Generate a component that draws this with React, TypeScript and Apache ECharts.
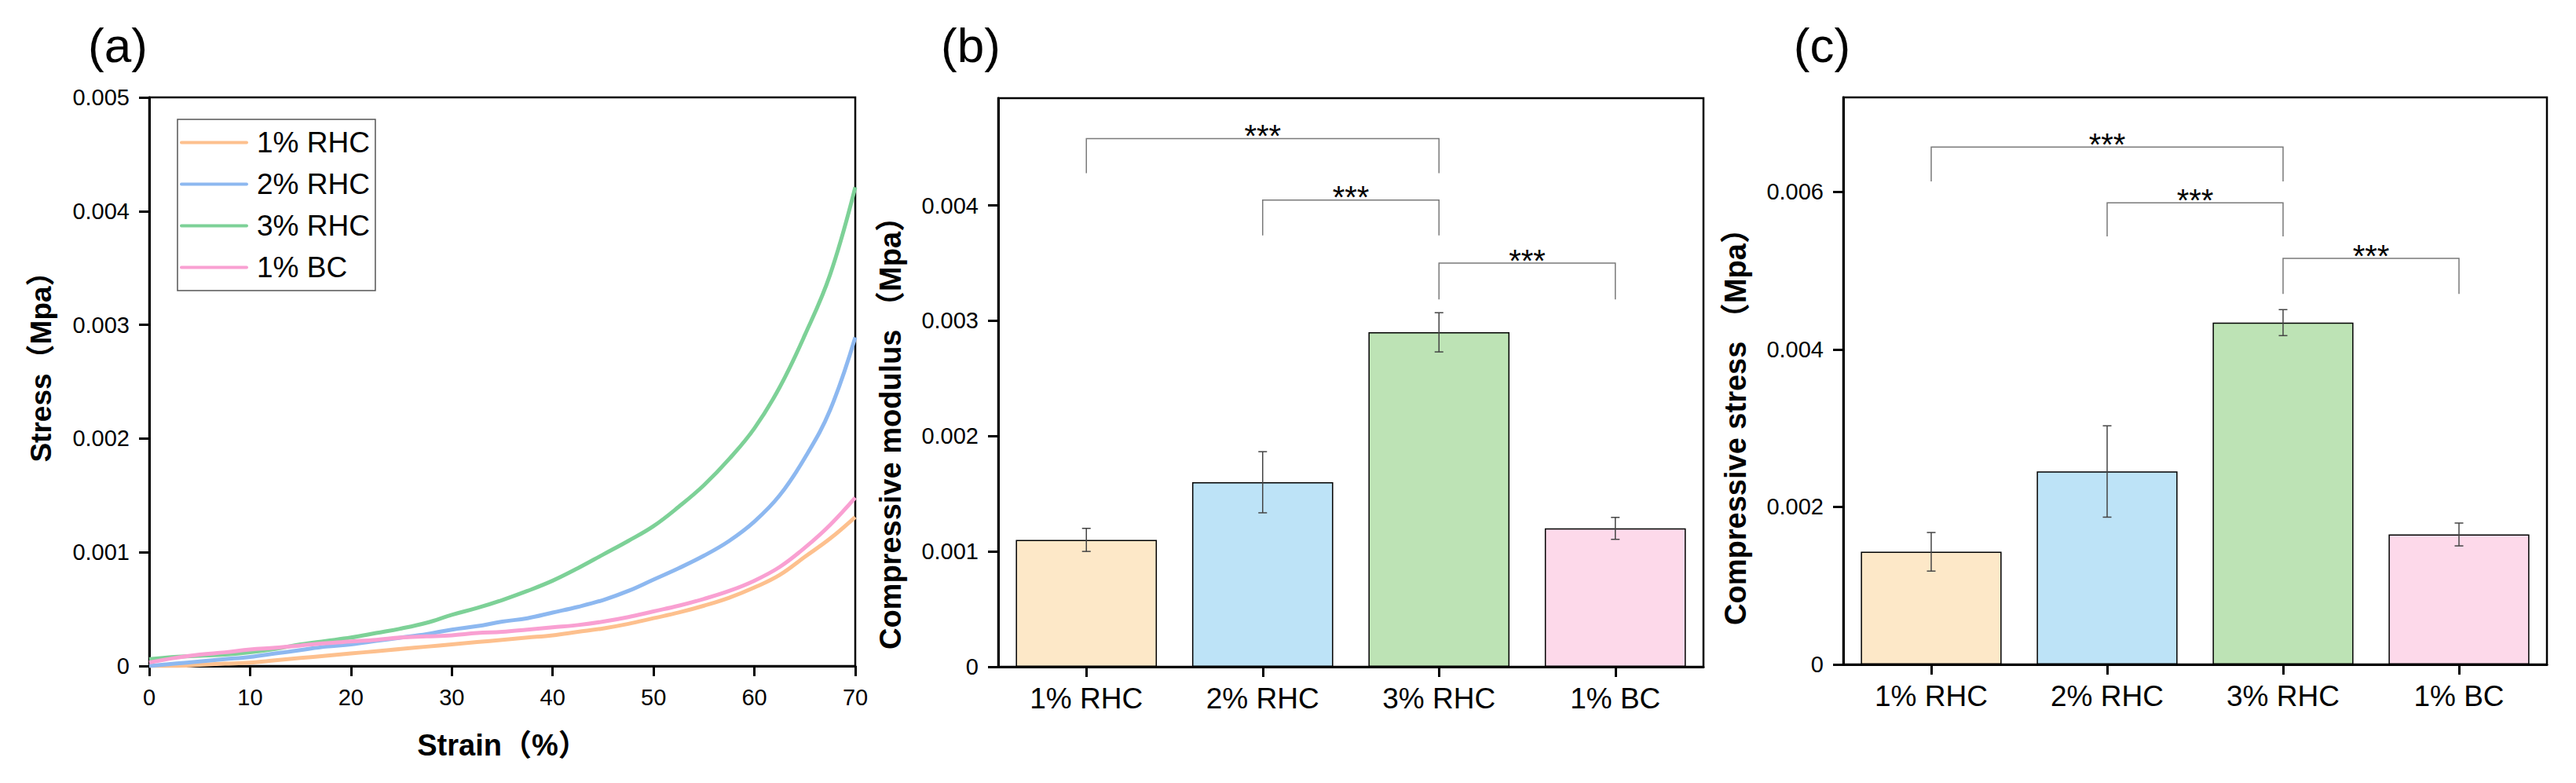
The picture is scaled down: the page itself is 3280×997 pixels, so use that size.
import React, { useEffect, useRef } from 'react';
import * as echarts from 'echarts';

// ---------- Panel (a): stress-strain curves ----------
const strain = [0, 2.5, 5, 7.5, 10, 12.5, 15, 17.5, 20, 22.5, 25, 27.5, 30, 32.5, 35, 37.5, 40, 42.5, 45, 47.5, 50, 52.5, 55, 57.5, 60, 62.5, 65, 67.5, 70];
const curve1RHC = [0, 0, 0.00001, 0.00002, 0.00003, 0.00005, 0.00007, 0.00009, 0.00011, 0.00013, 0.00015, 0.00017, 0.00019, 0.00021, 0.00023, 0.00025, 0.00027, 0.0003, 0.00033, 0.00037, 0.00042, 0.00047, 0.00053, 0.0006, 0.00069, 0.0008, 0.00096, 0.00112, 0.00131];
const curve2RHC = [0, 0.00002, 0.00004, 0.00006, 0.00008, 0.00011, 0.00014, 0.00017, 0.00019, 0.00022, 0.00025, 0.00028, 0.00032, 0.00035, 0.00039, 0.00042, 0.00047, 0.00052, 0.00058, 0.00066, 0.00076, 0.00086, 0.00097, 0.0011, 0.00127, 0.0015, 0.00183, 0.00225, 0.00289];
const curve3RHC = [0.00006, 0.00008, 0.00009, 0.0001, 0.00012, 0.00015, 0.00019, 0.00022, 0.00025, 0.00029, 0.00033, 0.00038, 0.00045, 0.00051, 0.00058, 0.00066, 0.00075, 0.00086, 0.00098, 0.0011, 0.00123, 0.0014, 0.00159, 0.00182, 0.00209, 0.00245, 0.00291, 0.00344, 0.00421];
const curve1BC = [0.00003, 0.00007, 0.0001, 0.00012, 0.000145, 0.00016, 0.00018, 0.0002, 0.000215, 0.00023, 0.00025, 0.00026, 0.00027, 0.00029, 0.0003, 0.00032, 0.00034, 0.00036, 0.00039, 0.00043, 0.00048, 0.00053, 0.00059, 0.00066, 0.00075, 0.00087, 0.00104, 0.00124, 0.00148];
const curveNames = ['1% RHC', '2% RHC', '3% RHC', '1% BC'];
const curveColors = ['#FDC08E', '#8DB8F0', '#7DD197', '#F9A0D2'];
const xTicksA = [0, 10, 20, 30, 40, 50, 60, 70];
const yTicksA = [0, 0.001, 0.002, 0.003, 0.004, 0.005];

// ---------- Panels (b) and (c): bars ----------
const barCategories = ['1% RHC', '2% RHC', '3% RHC', '1% BC'];
const barColors = ['#FDE8C8', '#BDE3F7', '#BDE3B5', '#FDD9EA'];
const modulusMean = [0.0011, 0.0016, 0.0029, 0.0012];
const modulusErr = [0.0001, 0.000265, 0.00017, 0.000095];
const stressMean = [0.00143, 0.00245, 0.00434, 0.00165];
const stressErr = [0.000245, 0.00058, 0.000165, 0.000145];
const yTicksB = [0, 0.001, 0.002, 0.003, 0.004];
const yTicksC = [0, 0.002, 0.004, 0.006];
// [left category, right category, bracket top, leg end]
const modulusBrackets = [
  [0, 2, 0.00458, 0.00428],
  [1, 2, 0.004046, 0.00374],
  [2, 3, 0.0035, 0.003185],
];
const stressBrackets = [
  [0, 2, 0.00657, 0.006133],
  [1, 2, 0.00586, 0.005435],
  [2, 3, 0.005155, 0.004704],
];

const FONT = '"Liberation Sans", Arial, "Noto Sans CJK SC", sans-serif';

const fmt = (v: number) => (v === 0 ? '0' : v.toFixed(3));

const axisLineStyle = { show: true, lineStyle: { color: '#000', width: 3 } };
const axisTickStyle = { show: true, inside: false, length: 13, lineStyle: { color: '#000', width: 3 } };

// legend icon: a 4px bar across an 87x30 box (leading moves fix the bounding box)
const LEGEND_LINE = 'path://M0,0M87,30M2,13L85,13A2,2,0,0,1,85,17L2,17A2,2,0,0,1,2,13Z';

function errorRender(params: any, api: any) {
  const x = api.value(0);
  const lo = api.coord([x, api.value(1)]);
  const hi = api.coord([x, api.value(2)]);
  const hw = 5.5;
  const st = { stroke: '#444', lineWidth: 1.5 };
  return {
    type: 'group',
    children: [
      { type: 'line', shape: { x1: hi[0], y1: hi[1], x2: lo[0], y2: lo[1] }, style: st },
      { type: 'line', shape: { x1: hi[0] - hw, y1: hi[1], x2: hi[0] + hw, y2: hi[1] }, style: st },
      { type: 'line', shape: { x1: lo[0] - hw, y1: lo[1], x2: lo[0] + hw, y2: lo[1] }, style: st },
    ],
  };
}

function bracketRender(params: any, api: any) {
  const l = api.value(0);
  const r = api.value(1);
  const top = api.value(2);
  const leg = api.value(3);
  const pL = api.coord([l, leg]);
  const pLT = api.coord([l, top]);
  const pRT = api.coord([r, top]);
  const pR = api.coord([r, leg]);
  return {
    type: 'group',
    children: [
      {
        type: 'polyline',
        shape: { points: [pL, pLT, pRT, pR] },
        style: { stroke: '#7a7a7a', lineWidth: 1.5, fill: 'none' },
      },
      {
        type: 'text',
        x: (pLT[0] + pRT[0]) / 2,
        y: pLT[1] - 3.5,
        style: {
          text: '***',
          fontSize: 40,
          fontFamily: FONT,
          fill: '#000',
          align: 'center',
          textAlign: 'center',
          verticalAlign: 'middle',
          textVerticalAlign: 'middle',
        },
      },
    ],
  };
}

function barAxes(gridIndex: number, max: number, ticks: number[], interval: number) {
  return {
    x: {
      type: 'category',
      gridIndex,
      data: barCategories,
      axisLine: axisLineStyle,
      axisTick: { ...axisTickStyle, alignWithLabel: true },
      axisLabel: { color: '#000', fontSize: 37, fontFamily: FONT, margin: 22 },
      splitLine: { show: false },
    },
    y: {
      type: 'value',
      gridIndex,
      min: 0,
      max,
      interval,
      axisLine: axisLineStyle,
      axisTick: { ...axisTickStyle, customValues: ticks },
      axisLabel: { color: '#000', fontSize: 29, fontFamily: FONT, margin: 25, customValues: ticks, formatter: fmt },
      splitLine: { show: false },
    },
  };
}

function barSeries(idx: number, means: number[], errs: number[], brackets: number[][]) {
  return [
    {
      type: 'bar',
      xAxisIndex: idx,
      yAxisIndex: idx,
      barCategoryGap: '20%',
      data: means.map((m, i) => ({ value: m, itemStyle: { color: barColors[i], borderColor: '#000', borderWidth: 1.5 } })),
      z: 2,
      silent: true,
    },
    {
      type: 'custom',
      xAxisIndex: idx,
      yAxisIndex: idx,
      renderItem: errorRender,
      encode: { x: 0, y: [1, 2] },
      data: means.map((m, i) => [i, m - errs[i], m + errs[i]]),
      z: 5,
      silent: true,
    },
    {
      type: 'custom',
      xAxisIndex: idx,
      yAxisIndex: idx,
      renderItem: bracketRender,
      encode: { x: [0, 1], y: [2, 3] },
      data: brackets,
      z: 6,
      silent: true,
    },
  ];
}

function titleText(text: string, x: number, y: number, size: number, bold: boolean, rotate = false) {
  return {
    type: 'text',
    x,
    y,
    rotation: rotate ? Math.PI / 2 : 0,
    style: {
      text,
      fontSize: size,
      fontWeight: bold ? 'bold' : 'normal',
      fontFamily: FONT,
      fill: '#000',
      align: 'center',
      textAlign: 'center',
      verticalAlign: 'middle',
      textVerticalAlign: 'middle',
    },
  };
}

export default function App() {
  const ref = useRef<HTMLDivElement>(null);
  useEffect(() => {
    document.body.style.margin = '0';
    if (!ref.current) return;
    const chart = echarts.init(ref.current, undefined, { renderer: 'svg' });
    const curves = [curve1RHC, curve2RHC, curve3RHC, curve1BC];
    const b = barAxes(1, 0.00493, yTicksB, 0.001);
    const c = barAxes(2, 0.0072, yTicksC, 0.002);
    chart.setOption({
      animation: false,
      backgroundColor: '#fff',
      grid: [
        { left: 190, top: 124, width: 899, height: 724, show: true, borderColor: '#000', borderWidth: 2.5, backgroundColor: 'transparent' },
        { left: 1271, top: 125, width: 898, height: 724, show: true, borderColor: '#000', borderWidth: 2.5, backgroundColor: 'transparent' },
        { left: 2347, top: 124, width: 896, height: 722, show: true, borderColor: '#000', borderWidth: 2.5, backgroundColor: 'transparent' },
      ],
      legend: {
        data: curveNames.map((n) => ({ name: n, icon: LEGEND_LINE })),
        orient: 'vertical',
        left: 226,
        top: 152,
        padding: [11, 7, 11, 3],
        itemWidth: 87,
        itemHeight: 30,
        itemGap: 16,
        borderColor: '#555',
        borderWidth: 1.5,
        textStyle: { fontSize: 37, fontFamily: FONT, color: '#000', padding: [0, 0, 0, 6] },
      },
      xAxis: [
        {
          type: 'value',
          gridIndex: 0,
          min: 0,
          max: 70,
          interval: 10,
          axisLine: axisLineStyle,
          axisTick: { ...axisTickStyle, customValues: xTicksA },
          axisLabel: { color: '#000', fontSize: 29, fontFamily: FONT, margin: 25, customValues: xTicksA },
          splitLine: { show: false },
        },
        b.x,
        c.x,
      ],
      yAxis: [
        {
          type: 'value',
          gridIndex: 0,
          min: 0,
          max: 0.005,
          interval: 0.001,
          axisLine: axisLineStyle,
          axisTick: { ...axisTickStyle, customValues: yTicksA },
          axisLabel: { color: '#000', fontSize: 29, fontFamily: FONT, margin: 25, customValues: yTicksA, formatter: fmt },
          splitLine: { show: false },
        },
        b.y,
        c.y,
      ],
      series: [
        ...curves.map((cv, i) => ({
          type: 'line',
          name: curveNames[i],
          xAxisIndex: 0,
          yAxisIndex: 0,
          data: strain.map((s, j) => [s, cv[j]]),
          symbol: 'none',
          smooth: 0.4,
          lineStyle: { color: curveColors[i], width: 5 },
          itemStyle: { color: curveColors[i] },
          z: 3,
          silent: true,
        })),
        ...barSeries(1, modulusMean, modulusErr, modulusBrackets),
        ...barSeries(2, stressMean, stressErr, stressBrackets),
      ],
      graphic: [
        titleText('(a)', 150, 57, 62, false),
        titleText('(b)', 1236, 57, 62, false),
        titleText('(c)', 2320, 57, 62, false),
        titleText('Stress（Mpa）', 52, 458, 37, true, true),
        titleText('Strain（%）', 640, 949, 38, true),
        titleText('Compressive modulus （Mpa）', 1134, 542, 38, true, true),
        titleText('Compressive stress （Mpa）', 2210, 534, 38, true, true),
      ],
    });
    return () => chart.dispose();
  }, []);
  return <div ref={ref} style={{ width: 3280, height: 997 }} />;
}
